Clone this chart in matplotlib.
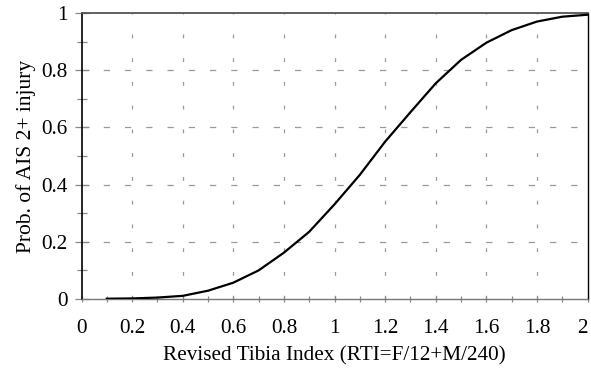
import matplotlib.pyplot as plt
import numpy as np

plt.rcParams['font.family'] = ['Liberation Serif', 'DejaVu Serif']

# values
rti = [0.1, 0.2, 0.3, 0.4, 0.5, 0.6, 0.7, 0.8, 0.9, 1.0,
       1.1, 1.2, 1.3, 1.4, 1.5, 1.6, 1.7, 1.8, 1.9, 2.0]
prob = [0.001, 0.002, 0.005, 0.011, 0.029, 0.057, 0.100, 0.162, 0.235, 0.331,
        0.434, 0.550, 0.653, 0.754, 0.836, 0.896, 0.940, 0.970, 0.987, 0.994]

x_labels = ['0', '0.2', '0.4', '0.6', '0.8', '1', '1.2', '1.4', '1.6', '1.8', '2']
y_labels = ['0', '0.2', '0.4', '0.6', '0.8', '1']

fig = plt.figure(figsize=(5.91, 3.72), dpi=100)
ax = fig.add_axes([81.5 / 591, 73 / 372, 506 / 591, 286 / 372])

ax.plot(rti, prob, color='black', linewidth=1.6, zorder=3)

ax.set_xlim(0, 2)
ax.set_ylim(0, 1)
ax.set_xticks(np.arange(0, 2.01, 0.2))
ax.set_xticklabels(x_labels)
ax.set_yticks(np.arange(0, 1.01, 0.2))
ax.set_yticklabels(y_labels)
ax.set_xticks(np.arange(0, 2.01, 0.1), minor=True)
ax.set_yticks(np.arange(0, 1.01, 0.1), minor=True)

# keep the last x label inside the figure
ax.get_xticklabels()[-1].set_horizontalalignment('right')

# dashed grid
for gx in np.arange(0.2, 1.81, 0.2):
    ax.axvline(gx, color='#999999', linewidth=0.9, dashes=(3, 16), zorder=1)
for gy in np.arange(0.2, 0.81, 0.2):
    ax.axhline(gy, color='#999999', linewidth=0.9, dashes=(5, 12), zorder=1)

ax.tick_params(axis='both', which='both', direction='inout', color='#888888',
               width=0.9, labelsize=15.3)
ax.tick_params(axis='x', which='both', length=4.5, pad=12)
ax.tick_params(axis='y', which='major', length=10, pad=5)
ax.tick_params(axis='y', which='minor', length=7)

ax.spines['left'].set_color('black')
ax.spines['left'].set_linewidth(1.2)
ax.spines['bottom'].set_color('#777777')
ax.spines['bottom'].set_linewidth(1.0)
ax.spines['top'].set_color('#555555')
ax.spines['top'].set_linewidth(1.3)
ax.spines['right'].set_color('black')
ax.spines['right'].set_linewidth(1.0)

ax.set_xlabel('Revised Tibia Index (RTI=F/12+M/240)', fontsize=15.3, labelpad=6)
ax.set_ylabel('Prob. of AIS 2+ injury', fontsize=15.5, labelpad=4)

plt.savefig('out.png', dpi=100)
